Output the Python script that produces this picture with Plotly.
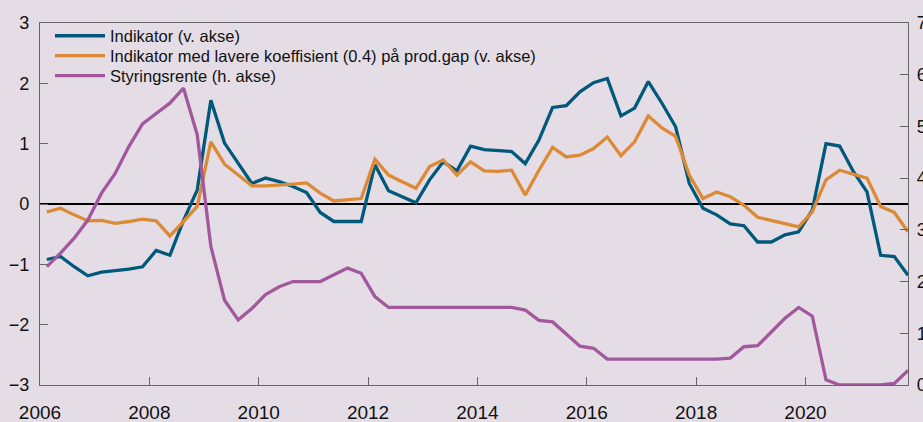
import plotly.graph_objects as go

# Quarterly data 2006Q1 - 2021Q4
years = list(range(2006, 2022))
quarters = [1, 2, 3, 4]

indikator = [
    -0.92, -0.87, -1.04, -1.19, -1.13, -1.11, -1.08, -1.04,
    -0.77, -0.85, -0.27, 0.23,
    1.72, 1.01, 0.67, 0.34,
    0.43, 0.37, 0.29, 0.19,
    -0.14, -0.29, -0.29, -0.29,
    0.65, 0.22, 0.12, 0.02,
    0.40, 0.70, 0.55, 0.96,
    0.90, 0.89, 0.87, 0.67,
    1.06, 1.60, 1.63, 1.86,
    2.01, 2.08, 1.46, 1.59,
    2.03, 1.67, 1.28, 0.34,
    -0.07, -0.18, -0.33, -0.36,
    -0.63, -0.63, -0.51, -0.46,
    -0.10, 1.00, 0.96, 0.54,
    0.20, -0.85, -0.87, -1.18,
]

indikator_lav = [
    -0.13, -0.07, -0.18, -0.28, -0.27, -0.32, -0.29, -0.25,
    -0.28, -0.53, -0.29, -0.04,
    1.03, 0.66, 0.48, 0.30,
    0.30, 0.31, 0.33, 0.35,
    0.18, 0.05, 0.07, 0.09,
    0.74, 0.48, 0.37, 0.26,
    0.62, 0.73, 0.48, 0.70,
    0.55, 0.54, 0.56, 0.15,
    0.56, 0.94, 0.78, 0.81,
    0.92, 1.11, 0.80, 1.03,
    1.46, 1.26, 1.12, 0.48,
    0.09, 0.20, 0.12, -0.02,
    -0.22, -0.27, -0.33, -0.38,
    -0.13, 0.40, 0.56, 0.50,
    0.43, -0.04, -0.14, -0.46,
]

styringsrente = [
    2.29, 2.55, 2.84, 3.19, 3.71, 4.09, 4.61, 5.05,
    5.25, 5.45, 5.74, 4.84,
    2.68, 1.64, 1.26, 1.48,
    1.75, 1.90, 2.00, 2.00,
    2.00, 2.13, 2.26, 2.16,
    1.71, 1.50, 1.50, 1.50,
    1.50, 1.50, 1.50, 1.50,
    1.50, 1.50, 1.50, 1.45,
    1.25, 1.22, 0.99, 0.75,
    0.71, 0.50, 0.50, 0.50,
    0.50, 0.50, 0.50, 0.50,
    0.50, 0.50, 0.52, 0.74,
    0.76, 1.03, 1.29, 1.50,
    1.33, 0.10, 0.00, 0.00,
    0.00, 0.00, 0.03, 0.28,
]

x_ticks = [2006, 2008, 2010, 2012, 2014, 2016, 2018, 2020]
y_left_ticks = [-3, -2, -1, 0, 1, 2, 3]
y_right_ticks = [0, 1, 2, 3, 4, 5, 6, 7]

names = [
    "Indikator (v. akse)",
    "Indikator med lavere koeffisient (0.4) på prod.gap (v. akse)",
    "Styringsrente (h. akse)",
]

# time of each quarter (quarter midpoint)
t = [y + (q - 0.5) / 4 for y in years for q in quarters]

BG = "#e5dde6"
BLUE = "#00587a"
ORANGE = "#dc8a36"
PURPLE = "#a2589c"
AXIS = "#666666"
TXT = "#111111"

fig = go.Figure()
fig.add_trace(go.Scatter(x=t, y=indikator, name=names[0], mode="lines",
                         legend="legend",
                         line=dict(color=BLUE, width=3.3)))
fig.add_trace(go.Scatter(x=t, y=indikator_lav, name=names[1], mode="lines",
                         legend="legend2",
                         line=dict(color=ORANGE, width=3.3)))
fig.add_trace(go.Scatter(x=t, y=styringsrente, name=names[2], mode="lines",
                         legend="legend3",
                         yaxis="y2", line=dict(color=PURPLE, width=3.3)))

leg_common = dict(x=0.0115, xanchor="left", yanchor="middle",
                  bgcolor="rgba(0,0,0,0)", font=dict(size=16.5, color=TXT),
                  itemwidth=50)

fig.update_layout(
    width=923, height=422,
    margin=dict(l=40, r=15, t=23, b=37, pad=0),
    paper_bgcolor=BG, plot_bgcolor=BG,
    font=dict(family="Liberation Sans, Arial, sans-serif", color=TXT),
    showlegend=True,
    legend=dict(y=0.964, **leg_common),
    legend2=dict(y=0.909, **leg_common),
    legend3=dict(y=0.854, **leg_common),
    xaxis=dict(range=[2006, 2021.875], tickvals=x_ticks,
               ticktext=[str(v) for v in x_ticks],
               ticks="inside", ticklen=8, tickcolor=AXIS, tickwidth=1,
               showline=True, linecolor=AXIS, linewidth=1.2, mirror=True,
               showgrid=False, zeroline=False, automargin=False,
               tickfont=dict(size=19, color=TXT), ticklabelstandoff=10),
    yaxis=dict(range=[-3, 3], tickvals=y_left_ticks,
               ticks="inside", ticklen=8, tickcolor=AXIS, tickwidth=1,
               showline=True, linecolor=AXIS, linewidth=1.2, mirror=True,
               showgrid=False, zeroline=True, zerolinecolor="#000000",
               zerolinewidth=1.5, automargin=False,
               tickfont=dict(size=18, color=TXT), ticklabelstandoff=6),
    yaxis2=dict(range=[0, 7], tickvals=y_right_ticks, overlaying="y",
                side="right",
                ticks="inside", ticklen=8, tickcolor=AXIS, tickwidth=1,
                showline=True, linecolor=AXIS, linewidth=1.2,
                showgrid=False, zeroline=False, automargin=False,
                tickfont=dict(size=18, color=TXT), ticklabelstandoff=4),
)

fig.write_html(
    "out.html",
    config={"displayModeBar": False},
    post_script="document.body.style.margin='0px';"
                "document.body.style.overflow='hidden';"
                "document.documentElement.style.overflow='hidden';",
)
